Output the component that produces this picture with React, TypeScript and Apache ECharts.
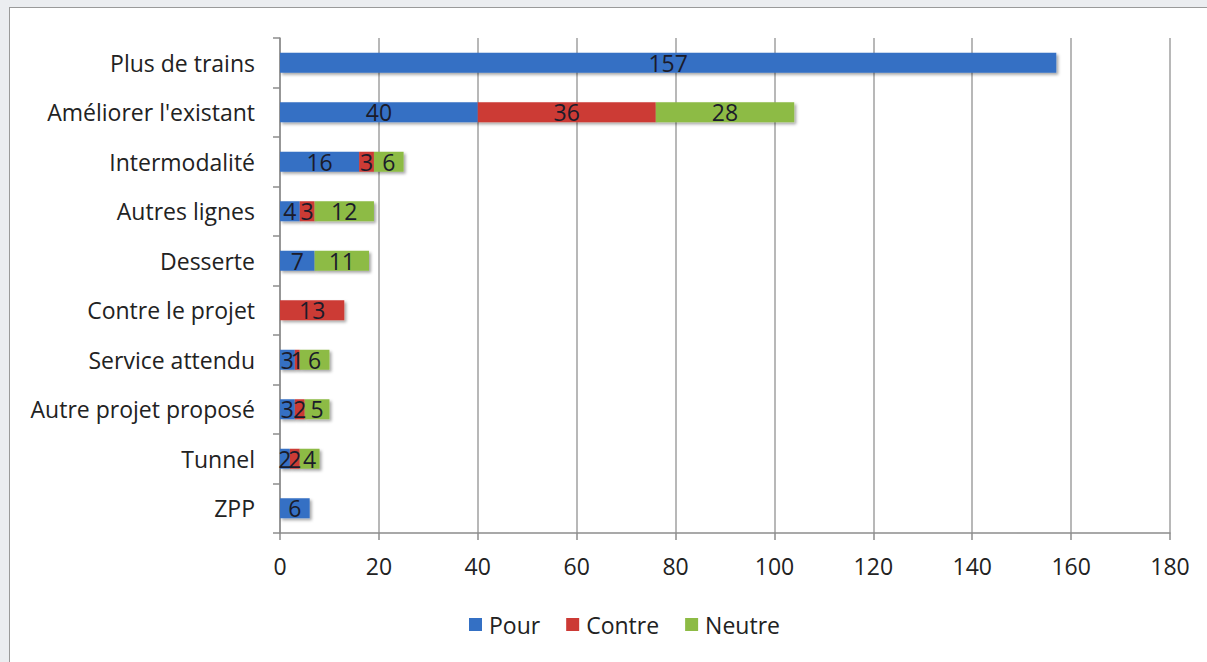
import React, { useEffect, useRef } from "react";
import * as echarts from "echarts";

const categories = [
  "Plus de trains",
  "Améliorer l'existant",
  "Intermodalité",
  "Autres lignes",
  "Desserte",
  "Contre le projet",
  "Service attendu",
  "Autre projet proposé",
  "Tunnel",
  "ZPP",
];
const pour = [157, 40, 16, 4, 7, 0, 3, 3, 2, 6];
const contre = [0, 36, 3, 3, 0, 13, 1, 2, 2, 0];
const neutre = [0, 28, 6, 12, 11, 0, 6, 5, 4, 0];
const seriesNames = ["Pour", "Contre", "Neutre"];
const colors = ["#3470c4", "#cc3a35", "#8dbb45"];

const FONT = "'Open Sans', 'Noto Sans', sans-serif";
const FS = 23;

export default function App() {
  const ref = useRef<HTMLDivElement>(null);
  useEffect(() => {
    if (!ref.current) return;
    const chart = echarts.init(ref.current, undefined, { renderer: "svg" });
    const values = [pour, contre, neutre];
    chart.setOption({
      animation: false,
      textStyle: { fontFamily: FONT },
      grid: { left: 280, right: 37, top: 38, bottom: 129, containLabel: false },
      legend: {
        data: seriesNames,
        left: 464,
        top: 608,
        itemWidth: 13,
        itemHeight: 13,
        itemGap: 26,
        icon: "rect",
        textStyle: { fontSize: FS, color: "#222", fontFamily: FONT, padding: [0, 0, 0, 2] },
      },
      xAxis: {
        type: "value",
        min: 0,
        max: 180,
        interval: 20,
        axisLine: { show: true, lineStyle: { color: "#8c8c8c", width: 1.5 } },
        axisTick: { show: true, length: 7, lineStyle: { color: "#8c8c8c", width: 1.5 } },
        axisLabel: { fontSize: FS, color: "#222", margin: 21, fontFamily: FONT },
        splitLine: { show: true, lineStyle: { color: "#a0a0a0", width: 1.5 } },
      },
      yAxis: {
        type: "category",
        data: categories,
        inverse: true,
        axisLine: { show: true, lineStyle: { color: "#8c8c8c", width: 1.5 } },
        axisTick: { show: true, length: 7, alignWithLabel: false, lineStyle: { color: "#8c8c8c", width: 1.5 } },
        axisLabel: { fontSize: FS, color: "#222", margin: 25, fontFamily: FONT },
      },
      series: seriesNames.map((name, i) => ({
        name,
        type: "bar",
        stack: "total",
        barWidth: 20,
        data: values[i],
        itemStyle: {
          color: colors[i],
          shadowBlur: 3,
          shadowOffsetX: 2,
          shadowOffsetY: 2,
          shadowColor: "rgba(0,0,0,0.35)",
        },
        label: {
          show: true,
          position: "inside",
          fontSize: FS,
          color: "#1b1b2a",
          fontFamily: FONT,
          formatter: (p: any) => (p.value ? String(p.value) : ""),
        },
      })),
    });
    return () => chart.dispose();
  }, []);
  return (
    <div style={{ position: "absolute", left: 0, top: 0, width: 1207, height: 662, background: "#ebedf0", overflow: "hidden" }}>
      <div
        style={{
          position: "absolute",
          left: 9,
          top: 7,
          width: 1198,
          height: 655,
          background: "#ffffff",
          borderLeft: "1.5px solid #9a9a9a",
          borderTop: "1.5px solid #9a9a9a",
          boxSizing: "border-box",
        }}
      />
      <div ref={ref} style={{ position: "absolute", left: 0, top: 0, width: 1207, height: 662 }} />
    </div>
  );
}
